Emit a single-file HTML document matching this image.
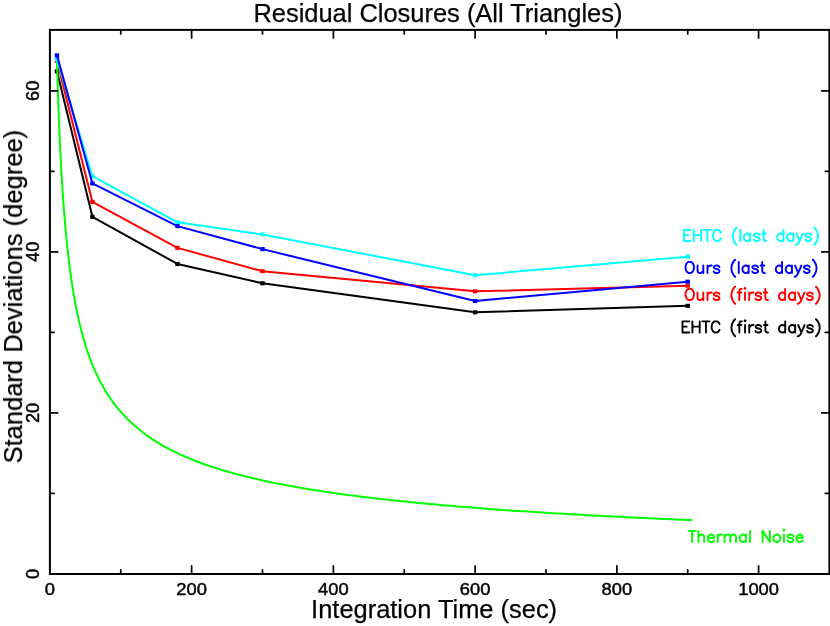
<!DOCTYPE html>
<html><head><meta charset="utf-8"><title>Residual Closures</title>
<style>html,body{margin:0;padding:0;background:#fff;}body{width:830px;height:626px;overflow:hidden;font-family:"Liberation Sans",sans-serif;}svg{display:block;}</style>
</head><body>
<svg width="830" height="626" viewBox="0 0 830 626">
<rect width="830" height="626" fill="#fff"/>
<path d="M56.99 71.33 L92.42 216.85 L177.47 263.96 L262.51 283.29 L475.12 312.28 L687.73 305.84" fill="none" stroke="#000000" stroke-width="2" stroke-linejoin="round"/><rect x="54.79" y="69.28" width="4.4" height="4.1" fill="#000000"/><rect x="90.22" y="214.80" width="4.4" height="4.1" fill="#000000"/><rect x="175.27" y="261.91" width="4.4" height="4.1" fill="#000000"/><rect x="260.31" y="281.24" width="4.4" height="4.1" fill="#000000"/><rect x="472.92" y="310.23" width="4.4" height="4.1" fill="#000000"/><rect x="685.53" y="303.79" width="4.4" height="4.1" fill="#000000"/>
<path d="M56.99 60.86 L92.42 201.95 L177.47 247.85 L262.51 271.21 L475.12 291.34 L687.73 285.70" fill="none" stroke="#ff0000" stroke-width="2" stroke-linejoin="round"/><rect x="54.79" y="58.81" width="4.4" height="4.1" fill="#ff0000"/><rect x="90.22" y="199.90" width="4.4" height="4.1" fill="#ff0000"/><rect x="175.27" y="245.80" width="4.4" height="4.1" fill="#ff0000"/><rect x="260.31" y="269.16" width="4.4" height="4.1" fill="#ff0000"/><rect x="472.92" y="289.29" width="4.4" height="4.1" fill="#ff0000"/><rect x="685.53" y="283.65" width="4.4" height="4.1" fill="#ff0000"/>
<path d="M56.99 61.37 L57.70 85.23 L58.40 106.04 L59.11 124.40 L59.82 140.75 L60.53 155.44 L61.24 168.73 L61.95 180.83 L62.66 191.91 L63.37 202.10 L64.07 211.52 L64.78 220.25 L65.49 228.39 L66.20 235.98 L66.91 243.10 L67.62 249.79 L68.33 256.08 L69.03 262.03 L69.74 267.65 L70.45 272.98 L71.16 278.03 L71.87 282.85 L72.58 287.43 L73.29 291.81 L74.00 295.99 L74.70 299.99 L75.41 303.82 L76.12 307.50 L76.83 311.03 L77.54 314.42 L78.25 317.69 L78.96 320.83 L79.67 323.86 L80.37 326.79 L81.08 329.61 L81.79 332.35 L82.50 334.99 L83.21 337.54 L83.92 340.02 L84.63 342.42 L85.34 344.75 L86.04 347.00 L86.75 349.20 L87.46 351.33 L88.17 353.40 L88.88 355.42 L89.59 357.38 L90.30 359.28 L91.00 361.14 L91.71 362.95 L92.42 364.72 L93.13 366.44 L93.84 368.12 L94.55 369.76 L95.26 371.37 L95.97 372.93 L96.67 374.46 L97.38 375.95 L98.09 377.42 L98.80 378.85 L99.51 380.25 L100.22 381.61 L100.93 382.96 L101.64 384.27 L102.34 385.55 L103.05 386.82 L103.76 388.05 L104.47 389.26 L105.18 390.45 L105.89 391.62 L106.60 392.76 L107.30 393.88 L108.01 394.98 L108.72 396.06 L109.43 397.13 L110.14 398.17 L110.85 399.20 L111.56 400.20 L112.27 401.19 L112.97 402.17 L113.68 403.12 L114.39 404.07 L115.10 404.99 L115.81 405.90 L116.52 406.80 L117.23 407.68 L117.94 408.55 L118.64 409.41 L119.35 410.25 L120.06 411.08 L120.77 411.89 L124.31 415.80 L127.86 419.44 L131.40 422.83 L134.94 426.02 L138.49 429.01 L142.03 431.82 L145.57 434.48 L149.12 436.99 L152.66 439.38 L156.20 441.64 L159.75 443.79 L163.29 445.84 L166.84 447.80 L170.38 449.67 L173.92 451.46 L177.47 453.17 L181.01 454.82 L184.55 456.40 L188.10 457.91 L191.64 459.37 L195.18 460.78 L198.73 462.14 L202.27 463.44 L205.81 464.71 L209.36 465.93 L212.90 467.11 L216.44 468.25 L219.99 469.36 L223.53 470.43 L227.08 471.47 L230.62 472.48 L234.16 473.47 L237.71 474.42 L241.25 475.34 L244.79 476.25 L248.34 477.12 L251.88 477.98 L255.42 478.81 L258.97 479.62 L262.51 480.41 L266.05 481.18 L269.60 481.93 L273.14 482.66 L276.68 483.38 L280.23 484.08 L283.77 484.76 L287.31 485.43 L290.86 486.09 L294.40 486.72 L297.94 487.35 L301.49 487.96 L305.03 488.56 L308.58 489.15 L312.12 489.72 L315.66 490.29 L319.21 490.84 L322.75 491.38 L326.29 491.91 L329.84 492.44 L333.38 492.95 L336.92 493.45 L340.47 493.94 L344.01 494.42 L347.55 494.90 L351.10 495.37 L354.64 495.83 L358.18 496.28 L361.73 496.72 L365.27 497.15 L368.81 497.58 L372.36 498.00 L375.90 498.42 L379.45 498.82 L382.99 499.23 L386.53 499.62 L390.08 500.01 L393.62 500.39 L397.16 500.77 L400.71 501.14 L404.25 501.50 L407.79 501.86 L411.34 502.22 L414.88 502.57 L418.42 502.91 L421.97 503.25 L425.51 503.59 L429.05 503.92 L432.60 504.24 L436.14 504.56 L439.69 504.88 L443.23 505.19 L446.77 505.50 L450.32 505.80 L453.86 506.10 L457.40 506.40 L460.95 506.69 L464.49 506.98 L468.03 507.26 L471.58 507.54 L475.12 507.82 L478.66 508.09 L482.21 508.36 L485.75 508.63 L489.29 508.90 L492.84 509.16 L496.38 509.42 L499.92 509.67 L503.47 509.92 L507.01 510.17 L510.55 510.42 L514.10 510.66 L517.64 510.90 L521.19 511.14 L524.73 511.37 L528.27 511.61 L531.82 511.83 L535.36 512.06 L538.90 512.29 L542.45 512.51 L545.99 512.73 L549.53 512.95 L553.08 513.16 L556.62 513.38 L560.16 513.59 L563.71 513.80 L567.25 514.00 L570.79 514.21 L574.34 514.41 L577.88 514.61 L581.42 514.81 L584.97 515.00 L588.51 515.20 L592.06 515.39 L595.60 515.58 L599.14 515.77 L602.69 515.96 L606.23 516.14 L609.77 516.32 L613.32 516.51 L616.86 516.69 L620.40 516.86 L623.95 517.04 L627.49 517.22 L631.03 517.39 L634.58 517.56 L638.12 517.73 L641.66 517.90 L645.21 518.07 L648.75 518.23 L652.29 518.40 L655.84 518.56 L659.38 518.72 L662.93 518.88 L666.47 519.04 L670.01 519.20 L673.56 519.35 L677.10 519.51 L680.64 519.66 L684.19 519.81 L687.73 519.96 L691.27 520.11 L691.98 520.14" fill="none" stroke="#00ff00" stroke-width="2" stroke-linejoin="round"/>
<path d="M56.99 59.41 L92.42 176.18 L177.47 222.33 L262.51 234.40 L475.12 275.23 L687.73 256.71" fill="none" stroke="#00ffff" stroke-width="2" stroke-linejoin="round"/><rect x="54.79" y="57.36" width="4.4" height="4.1" fill="#00ffff"/><rect x="90.22" y="174.13" width="4.4" height="4.1" fill="#00ffff"/><rect x="175.27" y="220.28" width="4.4" height="4.1" fill="#00ffff"/><rect x="260.31" y="232.35" width="4.4" height="4.1" fill="#00ffff"/><rect x="472.92" y="273.18" width="4.4" height="4.1" fill="#00ffff"/><rect x="685.53" y="254.66" width="4.4" height="4.1" fill="#00ffff"/>
<path d="M56.99 55.39 L92.42 183.43 L177.47 226.11 L262.51 249.14 L475.12 301.00 L687.73 281.68" fill="none" stroke="#0000ff" stroke-width="2" stroke-linejoin="round"/><rect x="54.79" y="53.34" width="4.4" height="4.1" fill="#0000ff"/><rect x="90.22" y="181.38" width="4.4" height="4.1" fill="#0000ff"/><rect x="175.27" y="224.06" width="4.4" height="4.1" fill="#0000ff"/><rect x="260.31" y="247.09" width="4.4" height="4.1" fill="#0000ff"/><rect x="472.92" y="298.95" width="4.4" height="4.1" fill="#0000ff"/><rect x="685.53" y="279.63" width="4.4" height="4.1" fill="#0000ff"/>
<rect x="49.90" y="29.90" width="779.50" height="544.10" fill="none" stroke="#000" stroke-width="2"/>
<path d="M120.77 574.00 V569.90 M120.77 29.90 V34.00 M191.64 574.00 V565.90 M191.64 29.90 V38.00 M262.51 574.00 V569.90 M262.51 29.90 V34.00 M333.38 574.00 V565.90 M333.38 29.90 V38.00 M404.25 574.00 V569.90 M404.25 29.90 V34.00 M475.12 574.00 V565.90 M475.12 29.90 V38.00 M545.99 574.00 V569.90 M545.99 29.90 V34.00 M616.86 574.00 V565.90 M616.86 29.90 V38.00 M687.73 574.00 V569.90 M687.73 29.90 V34.00 M758.60 574.00 V565.90 M758.60 29.90 V38.00 M49.90 493.47 H54.00 M829.40 493.47 H825.30 M49.90 412.94 H57.60 M829.40 412.94 H821.70 M49.90 332.41 H54.00 M829.40 332.41 H825.30 M49.90 251.88 H57.60 M829.40 251.88 H821.70 M49.90 171.35 H54.00 M829.40 171.35 H825.30 M49.90 90.82 H57.60 M829.40 90.82 H821.70" fill="none" stroke="#000" stroke-width="1.7" stroke-linecap="round"/>
<g opacity="0.999" font-family="Liberation Sans, sans-serif" fill="#000" stroke="#000" stroke-width="0.45" text-anchor="middle">
<text font-size="16.8" transform="translate(49.90 594.7) scale(1.09 1)">0</text>
<text font-size="16.8" transform="translate(191.64 594.7) scale(1.09 1)">200</text>
<text font-size="16.8" transform="translate(333.38 594.7) scale(1.09 1)">400</text>
<text font-size="16.8" transform="translate(475.12 594.7) scale(1.09 1)">600</text>
<text font-size="16.8" transform="translate(616.86 594.7) scale(1.09 1)">800</text>
<text font-size="16.8" transform="translate(758.60 594.7) scale(1.09 1)">1000</text>
<text font-size="18" transform="translate(38.9 574.00) rotate(-90) scale(1.01 1)">0</text>
<text font-size="18" transform="translate(38.9 412.94) rotate(-90) scale(1.01 1)">20</text>
<text font-size="18" transform="translate(38.9 251.88) rotate(-90) scale(1.01 1)">40</text>
<text font-size="18" transform="translate(38.9 90.82) rotate(-90) scale(1.01 1)">60</text>
</g>
<g opacity="0.999" font-family="Liberation Sans, sans-serif" font-size="25.3" fill="#000" stroke="#000" stroke-width="0.25" text-anchor="middle">
<text font-size="25.45" x="437.9" y="22">Residual Closures (All Triangles)</text>
<text font-size="25.45" x="434.1" y="617.8">Integration Time (sec)</text>
<text font-size="25.55" transform="translate(22 296.65) rotate(-90)">Standard Deviations (degree)</text>
</g>
<path d="M683.89 229.85 L683.89 241.00 M683.89 229.85 L690.67 229.85 M683.89 235.16 L688.06 235.16 M683.89 241.00 L690.67 241.00 M693.79 229.85 L693.79 241.00 M701.10 229.85 L701.10 241.00 M693.79 235.16 L701.10 235.16 M707.35 229.85 L707.35 241.00 M703.70 229.85 L711.00 229.85 M720.91 232.50 L720.39 231.44 L719.35 230.38 L718.30 229.85 L716.22 229.85 L715.18 230.38 L714.13 231.44 L713.61 232.50 L713.09 234.10 L713.09 236.75 L713.61 238.34 L714.13 239.41 L715.18 240.47 L716.22 241.00 L718.30 241.00 L719.35 240.47 L720.39 239.41 L720.91 238.34 M736.56 227.72 L735.51 228.79 L734.47 230.38 L733.43 232.50 L732.91 235.16 L732.91 237.28 L733.43 239.94 L734.47 242.06 L735.51 243.66 L736.56 244.72 M740.21 229.85 L740.21 241.00 M750.12 233.57 L750.12 241.00 M750.12 235.16 L749.07 234.10 L748.03 233.57 L746.47 233.57 L745.42 234.10 L744.38 235.16 L743.86 236.75 L743.86 237.81 L744.38 239.41 L745.42 240.47 L746.47 241.00 L748.03 241.00 L749.07 240.47 L750.12 239.41 M759.50 235.16 L758.98 234.10 L757.42 233.57 L755.85 233.57 L754.29 234.10 L753.77 235.16 L754.29 236.22 L755.33 236.75 L757.94 237.28 L758.98 237.81 L759.50 238.88 L759.50 239.41 L758.98 240.47 L757.42 241.00 L755.85 241.00 L754.29 240.47 L753.77 239.41 M763.68 229.85 L763.68 238.88 L764.20 240.47 L765.24 241.00 L766.28 241.00 M762.11 233.57 L765.76 233.57 M783.49 229.85 L783.49 241.00 M783.49 235.16 L782.45 234.10 L781.41 233.57 L779.84 233.57 L778.80 234.10 L777.76 235.16 L777.23 236.75 L777.23 237.81 L777.76 239.41 L778.80 240.47 L779.84 241.00 L781.41 241.00 L782.45 240.47 L783.49 239.41 M793.40 233.57 L793.40 241.00 M793.40 235.16 L792.36 234.10 L791.32 233.57 L789.75 233.57 L788.71 234.10 L787.66 235.16 L787.14 236.75 L787.14 237.81 L787.66 239.41 L788.71 240.47 L789.75 241.00 L791.32 241.00 L792.36 240.47 L793.40 239.41 M796.53 233.57 L799.66 241.00 M802.79 233.57 L799.66 241.00 L798.62 243.12 L797.57 244.19 L796.53 244.72 L796.01 244.72 M811.13 235.16 L810.61 234.10 L809.05 233.57 L807.48 233.57 L805.92 234.10 L805.40 235.16 L805.92 236.22 L806.96 236.75 L809.57 237.28 L810.61 237.81 L811.13 238.88 L811.13 239.41 L810.61 240.47 L809.05 241.00 L807.48 241.00 L805.92 240.47 L805.40 239.41 M814.26 227.72 L815.30 228.79 L816.35 230.38 L817.39 232.50 L817.91 235.16 L817.91 237.28 L817.39 239.94 L816.35 242.06 L815.30 243.66 L814.26 244.72" fill="none" stroke="#00ffff" stroke-width="1.9" stroke-linecap="round" stroke-linejoin="round"/>
<path d="M688.69 261.85 L687.65 262.38 L686.61 263.44 L686.09 264.50 L685.56 266.10 L685.56 268.75 L686.09 270.35 L686.61 271.41 L687.65 272.47 L688.69 273.00 L690.78 273.00 L691.82 272.47 L692.87 271.41 L693.39 270.35 L693.91 268.75 L693.91 266.10 L693.39 264.50 L692.87 263.44 L691.82 262.38 L690.78 261.85 L688.69 261.85 M697.56 265.57 L697.56 270.88 L698.08 272.47 L699.12 273.00 L700.69 273.00 L701.73 272.47 L703.30 270.88 M703.30 265.57 L703.30 273.00 M707.47 265.57 L707.47 273.00 M707.47 268.75 L707.99 267.16 L709.03 266.10 L710.07 265.57 L711.64 265.57 M719.46 267.16 L718.94 266.10 L717.38 265.57 L715.81 265.57 L714.25 266.10 L713.73 267.16 L714.25 268.22 L715.29 268.75 L717.90 269.28 L718.94 269.81 L719.46 270.88 L719.46 271.41 L718.94 272.47 L717.38 273.00 L715.81 273.00 L714.25 272.47 L713.73 271.41 M735.11 259.73 L734.06 260.79 L733.02 262.38 L731.98 264.50 L731.46 267.16 L731.46 269.28 L731.98 271.94 L733.02 274.06 L734.06 275.65 L735.11 276.72 M738.76 261.85 L738.76 273.00 M748.67 265.57 L748.67 273.00 M748.67 267.16 L747.62 266.10 L746.58 265.57 L745.02 265.57 L743.97 266.10 L742.93 267.16 L742.41 268.75 L742.41 269.81 L742.93 271.41 L743.97 272.47 L745.02 273.00 L746.58 273.00 L747.62 272.47 L748.67 271.41 M758.05 267.16 L757.53 266.10 L755.97 265.57 L754.40 265.57 L752.84 266.10 L752.32 267.16 L752.84 268.22 L753.88 268.75 L756.49 269.28 L757.53 269.81 L758.05 270.88 L758.05 271.41 L757.53 272.47 L755.97 273.00 L754.40 273.00 L752.84 272.47 L752.32 271.41 M762.23 261.85 L762.23 270.88 L762.75 272.47 L763.79 273.00 L764.83 273.00 M760.66 265.57 L764.31 265.57 M782.04 261.85 L782.04 273.00 M782.04 267.16 L781.00 266.10 L779.96 265.57 L778.39 265.57 L777.35 266.10 L776.31 267.16 L775.78 268.75 L775.78 269.81 L776.31 271.41 L777.35 272.47 L778.39 273.00 L779.96 273.00 L781.00 272.47 L782.04 271.41 M791.95 265.57 L791.95 273.00 M791.95 267.16 L790.91 266.10 L789.86 265.57 L788.30 265.57 L787.26 266.10 L786.21 267.16 L785.69 268.75 L785.69 269.81 L786.21 271.41 L787.26 272.47 L788.30 273.00 L789.86 273.00 L790.91 272.47 L791.95 271.41 M795.08 265.57 L798.21 273.00 M801.34 265.57 L798.21 273.00 L797.17 275.12 L796.12 276.19 L795.08 276.72 L794.56 276.72 M809.68 267.16 L809.16 266.10 L807.60 265.57 L806.03 265.57 L804.47 266.10 L803.95 267.16 L804.47 268.22 L805.51 268.75 L808.12 269.28 L809.16 269.81 L809.68 270.88 L809.68 271.41 L809.16 272.47 L807.60 273.00 L806.03 273.00 L804.47 272.47 L803.95 271.41 M812.81 259.73 L813.85 260.79 L814.90 262.38 L815.94 264.50 L816.46 267.16 L816.46 269.28 L815.94 271.94 L814.90 274.06 L813.85 275.65 L812.81 276.72" fill="none" stroke="#0000ff" stroke-width="1.9" stroke-linecap="round" stroke-linejoin="round"/>
<path d="M688.69 288.85 L687.65 289.38 L686.61 290.44 L686.09 291.50 L685.56 293.10 L685.56 295.75 L686.09 297.35 L686.61 298.41 L687.65 299.47 L688.69 300.00 L690.78 300.00 L691.82 299.47 L692.87 298.41 L693.39 297.35 L693.91 295.75 L693.91 293.10 L693.39 291.50 L692.87 290.44 L691.82 289.38 L690.78 288.85 L688.69 288.85 M697.56 292.57 L697.56 297.88 L698.08 299.47 L699.12 300.00 L700.69 300.00 L701.73 299.47 L703.30 297.88 M703.30 292.57 L703.30 300.00 M707.47 292.57 L707.47 300.00 M707.47 295.75 L707.99 294.16 L709.03 293.10 L710.07 292.57 L711.64 292.57 M719.46 294.16 L718.94 293.10 L717.38 292.57 L715.81 292.57 L714.25 293.10 L713.73 294.16 L714.25 295.22 L715.29 295.75 L717.90 296.28 L718.94 296.81 L719.46 297.88 L719.46 298.41 L718.94 299.47 L717.38 300.00 L715.81 300.00 L714.25 299.47 L713.73 298.41 M735.11 286.73 L734.06 287.79 L733.02 289.38 L731.98 291.50 L731.46 294.16 L731.46 296.28 L731.98 298.94 L733.02 301.06 L734.06 302.65 L735.11 303.72 M741.89 288.85 L740.84 288.85 L739.80 289.38 L739.28 290.97 L739.28 300.00 M737.71 292.57 L741.37 292.57 M744.49 288.32 L745.02 288.85 L745.54 288.32 L745.02 287.79 L744.49 288.32 M745.02 292.57 L745.02 300.00 M749.19 292.57 L749.19 300.00 M749.19 295.75 L749.71 294.16 L750.75 293.10 L751.80 292.57 L753.36 292.57 M761.18 294.16 L760.66 293.10 L759.10 292.57 L757.53 292.57 L755.97 293.10 L755.45 294.16 L755.97 295.22 L757.01 295.75 L759.62 296.28 L760.66 296.81 L761.18 297.88 L761.18 298.41 L760.66 299.47 L759.10 300.00 L757.53 300.00 L755.97 299.47 L755.45 298.41 M765.35 288.85 L765.35 297.88 L765.88 299.47 L766.92 300.00 L767.96 300.00 M763.79 292.57 L767.44 292.57 M785.17 288.85 L785.17 300.00 M785.17 294.16 L784.13 293.10 L783.09 292.57 L781.52 292.57 L780.48 293.10 L779.43 294.16 L778.91 295.75 L778.91 296.81 L779.43 298.41 L780.48 299.47 L781.52 300.00 L783.09 300.00 L784.13 299.47 L785.17 298.41 M795.08 292.57 L795.08 300.00 M795.08 294.16 L794.04 293.10 L792.99 292.57 L791.43 292.57 L790.39 293.10 L789.34 294.16 L788.82 295.75 L788.82 296.81 L789.34 298.41 L790.39 299.47 L791.43 300.00 L792.99 300.00 L794.04 299.47 L795.08 298.41 M798.21 292.57 L801.34 300.00 M804.47 292.57 L801.34 300.00 L800.29 302.12 L799.25 303.19 L798.21 303.72 L797.69 303.72 M812.81 294.16 L812.29 293.10 L810.72 292.57 L809.16 292.57 L807.60 293.10 L807.07 294.16 L807.60 295.22 L808.64 295.75 L811.25 296.28 L812.29 296.81 L812.81 297.88 L812.81 298.41 L812.29 299.47 L810.72 300.00 L809.16 300.00 L807.60 299.47 L807.07 298.41 M815.94 286.73 L816.98 287.79 L818.03 289.38 L819.07 291.50 L819.59 294.16 L819.59 296.28 L819.07 298.94 L818.03 301.06 L816.98 302.65 L815.94 303.72" fill="none" stroke="#ff0000" stroke-width="1.9" stroke-linecap="round" stroke-linejoin="round"/>
<path d="M682.49 321.35 L682.49 332.50 M682.49 321.35 L689.27 321.35 M682.49 326.66 L686.66 326.66 M682.49 332.50 L689.27 332.50 M692.39 321.35 L692.39 332.50 M699.70 321.35 L699.70 332.50 M692.39 326.66 L699.70 326.66 M705.95 321.35 L705.95 332.50 M702.30 321.35 L709.60 321.35 M719.51 324.00 L718.99 322.94 L717.95 321.88 L716.90 321.35 L714.82 321.35 L713.78 321.88 L712.73 322.94 L712.21 324.00 L711.69 325.60 L711.69 328.25 L712.21 329.85 L712.73 330.91 L713.78 331.97 L714.82 332.50 L716.90 332.50 L717.95 331.97 L718.99 330.91 L719.51 329.85 M735.16 319.23 L734.11 320.29 L733.07 321.88 L732.03 324.00 L731.51 326.66 L731.51 328.78 L732.03 331.44 L733.07 333.56 L734.11 335.15 L735.16 336.22 M741.94 321.35 L740.89 321.35 L739.85 321.88 L739.33 323.47 L739.33 332.50 M737.77 325.07 L741.42 325.07 M744.54 320.82 L745.07 321.35 L745.59 320.82 L745.07 320.29 L744.54 320.82 M745.07 325.07 L745.07 332.50 M749.24 325.07 L749.24 332.50 M749.24 328.25 L749.76 326.66 L750.80 325.60 L751.85 325.07 L753.41 325.07 M761.23 326.66 L760.71 325.60 L759.15 325.07 L757.58 325.07 L756.02 325.60 L755.50 326.66 L756.02 327.72 L757.06 328.25 L759.67 328.78 L760.71 329.31 L761.23 330.38 L761.23 330.91 L760.71 331.97 L759.15 332.50 L757.58 332.50 L756.02 331.97 L755.50 330.91 M765.40 321.35 L765.40 330.38 L765.93 331.97 L766.97 332.50 L768.01 332.50 M763.84 325.07 L767.49 325.07 M785.22 321.35 L785.22 332.50 M785.22 326.66 L784.18 325.60 L783.14 325.07 L781.57 325.07 L780.53 325.60 L779.49 326.66 L778.96 328.25 L778.96 329.31 L779.49 330.91 L780.53 331.97 L781.57 332.50 L783.14 332.50 L784.18 331.97 L785.22 330.91 M795.13 325.07 L795.13 332.50 M795.13 326.66 L794.09 325.60 L793.04 325.07 L791.48 325.07 L790.44 325.60 L789.39 326.66 L788.87 328.25 L788.87 329.31 L789.39 330.91 L790.44 331.97 L791.48 332.50 L793.04 332.50 L794.09 331.97 L795.13 330.91 M798.26 325.07 L801.39 332.50 M804.52 325.07 L801.39 332.50 L800.35 334.62 L799.30 335.69 L798.26 336.22 L797.74 336.22 M812.86 326.66 L812.34 325.60 L810.78 325.07 L809.21 325.07 L807.65 325.60 L807.12 326.66 L807.65 327.72 L808.69 328.25 L811.30 328.78 L812.34 329.31 L812.86 330.38 L812.86 330.91 L812.34 331.97 L810.78 332.50 L809.21 332.50 L807.65 331.97 L807.12 330.91 M815.99 319.23 L817.03 320.29 L818.08 321.88 L819.12 324.00 L819.64 326.66 L819.64 328.78 L819.12 331.44 L818.08 333.56 L817.03 335.15 L815.99 336.22" fill="none" stroke="#000000" stroke-width="1.9" stroke-linecap="round" stroke-linejoin="round"/>
<path d="M692.17 530.85 L692.17 542.00 M688.52 530.85 L695.82 530.85 M698.43 530.85 L698.43 542.00 M698.43 536.69 L699.99 535.10 L701.04 534.57 L702.60 534.57 L703.65 535.10 L704.17 536.69 L704.17 542.00 M707.82 537.75 L714.08 537.75 L714.08 536.69 L713.55 535.63 L713.03 535.10 L711.99 534.57 L710.42 534.57 L709.38 535.10 L708.34 536.16 L707.82 537.75 L707.82 538.81 L708.34 540.41 L709.38 541.47 L710.42 542.00 L711.99 542.00 L713.03 541.47 L714.08 540.41 M717.73 534.57 L717.73 542.00 M717.73 537.75 L718.25 536.16 L719.29 535.10 L720.33 534.57 L721.90 534.57 M724.50 534.57 L724.50 542.00 M724.50 536.69 L726.07 535.10 L727.11 534.57 L728.68 534.57 L729.72 535.10 L730.24 536.69 L730.24 542.00 M730.24 536.69 L731.81 535.10 L732.85 534.57 L734.41 534.57 L735.46 535.10 L735.98 536.69 L735.98 542.00 M745.89 534.57 L745.89 542.00 M745.89 536.16 L744.84 535.10 L743.80 534.57 L742.24 534.57 L741.19 535.10 L740.15 536.16 L739.63 537.75 L739.63 538.81 L740.15 540.41 L741.19 541.47 L742.24 542.00 L743.80 542.00 L744.84 541.47 L745.89 540.41 M750.06 530.85 L750.06 542.00 M762.57 530.85 L762.57 542.00 M762.57 530.85 L769.88 542.00 M769.88 530.85 L769.88 542.00 M776.13 534.57 L775.09 535.10 L774.05 536.16 L773.53 537.75 L773.53 538.81 L774.05 540.41 L775.09 541.47 L776.13 542.00 L777.70 542.00 L778.74 541.47 L779.78 540.41 L780.31 538.81 L780.31 537.75 L779.78 536.16 L778.74 535.10 L777.70 534.57 L776.13 534.57 M783.43 530.32 L783.96 530.85 L784.48 530.32 L783.96 529.79 L783.43 530.32 M783.96 534.57 L783.96 542.00 M793.34 536.16 L792.82 535.10 L791.26 534.57 L789.69 534.57 L788.13 535.10 L787.61 536.16 L788.13 537.22 L789.17 537.75 L791.78 538.28 L792.82 538.81 L793.34 539.88 L793.34 540.41 L792.82 541.47 L791.26 542.00 L789.69 542.00 L788.13 541.47 L787.61 540.41 M796.47 537.75 L802.73 537.75 L802.73 536.69 L802.21 535.63 L801.69 535.10 L800.64 534.57 L799.08 534.57 L798.04 535.10 L796.99 536.16 L796.47 537.75 L796.47 538.81 L796.99 540.41 L798.04 541.47 L799.08 542.00 L800.64 542.00 L801.69 541.47 L802.73 540.41" fill="none" stroke="#00ff00" stroke-width="1.9" stroke-linecap="round" stroke-linejoin="round"/>
</svg>
</body></html>
